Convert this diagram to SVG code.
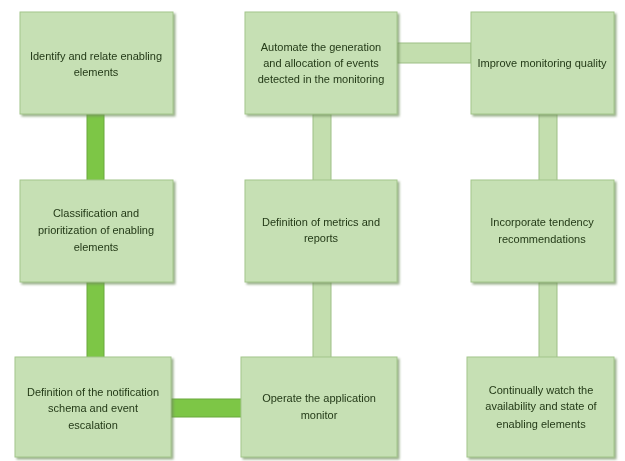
<svg xmlns="http://www.w3.org/2000/svg" width="625" height="461" viewBox="0 0 625 461">
<defs>
<style>
.box{fill:#c6e0b4;stroke:#a3c68b;stroke-width:1}
.t{font-family:"Liberation Sans",Arial,sans-serif;font-size:11px;fill:#243a18;text-anchor:middle}
.cb{fill:#7dc646;stroke:#6aa83c;stroke-width:1}
.cl{fill:#c3deae;stroke:#9dbf86;stroke-width:1}
</style>
<filter id="sh" x="-10%" y="-10%" width="125%" height="125%">
<feDropShadow dx="2" dy="2" stdDeviation="1.2" flood-color="#6f8f5c" flood-opacity="0.7"/>
</filter>
</defs>
<rect width="625" height="461" fill="#ffffff"/>
<g id="connectors">
<rect class="cb" x="87" y="114" width="17" height="67"/>
<rect class="cb" x="87" y="281" width="17" height="77"/>
<rect class="cb" x="171" y="399" width="71" height="18"/>
<rect class="cl" x="313" y="114" width="18" height="67"/>
<rect class="cl" x="313" y="281" width="18" height="77"/>
<rect class="cl" x="397" y="43" width="74" height="20"/>
<rect class="cl" x="539" y="114" width="18" height="67"/>
<rect class="cl" x="539" y="282" width="18" height="76"/>
</g>
<g id="n1" filter="url(#sh)"><rect class="box" x="20" y="12" width="153" height="102"/>
<text class="t" x="96" y="60">Identify and relate enabling</text><text class="t" x="96" y="76">elements</text></g>
<g id="n2" filter="url(#sh)"><rect class="box" x="245" y="12" width="152" height="102"/>
<text class="t" x="321" y="51">Automate the generation</text><text class="t" x="321" y="67">and allocation of events</text><text class="t" x="321" y="83">detected in the monitoring</text></g>
<g id="n3" filter="url(#sh)"><rect class="box" x="471" y="12" width="143" height="102"/>
<text class="t" x="542" y="67">Improve monitoring quality</text></g>
<g id="n4" filter="url(#sh)"><rect class="box" x="20" y="180" width="153" height="102"/>
<text class="t" x="96" y="217">Classification and</text><text class="t" x="96" y="234">prioritization of enabling</text><text class="t" x="96" y="251">elements</text></g>
<g id="n5" filter="url(#sh)"><rect class="box" x="245" y="180" width="152" height="102"/>
<text class="t" x="321" y="226">Definition of metrics and</text><text class="t" x="321" y="242">reports</text></g>
<g id="n6" filter="url(#sh)"><rect class="box" x="471" y="180" width="143" height="102"/>
<text class="t" x="542" y="226">Incorporate tendency</text><text class="t" x="542" y="243">recommendations</text></g>
<g id="n7" filter="url(#sh)"><rect class="box" x="15" y="357" width="156" height="100"/>
<text class="t" x="93" y="396">Definition of the notification</text><text class="t" x="93" y="412">schema and event</text><text class="t" x="93" y="429">escalation</text></g>
<g id="n8" filter="url(#sh)"><rect class="box" x="241" y="357" width="156" height="100"/>
<text class="t" x="319" y="402">Operate the application</text><text class="t" x="319" y="419">monitor</text></g>
<g id="n9" filter="url(#sh)"><rect class="box" x="467" y="357" width="147" height="100"/>
<text class="t" x="541" y="394">Continually watch the</text><text class="t" x="541" y="410">availability and state of</text><text class="t" x="541" y="428">enabling elements</text></g>
</svg>
